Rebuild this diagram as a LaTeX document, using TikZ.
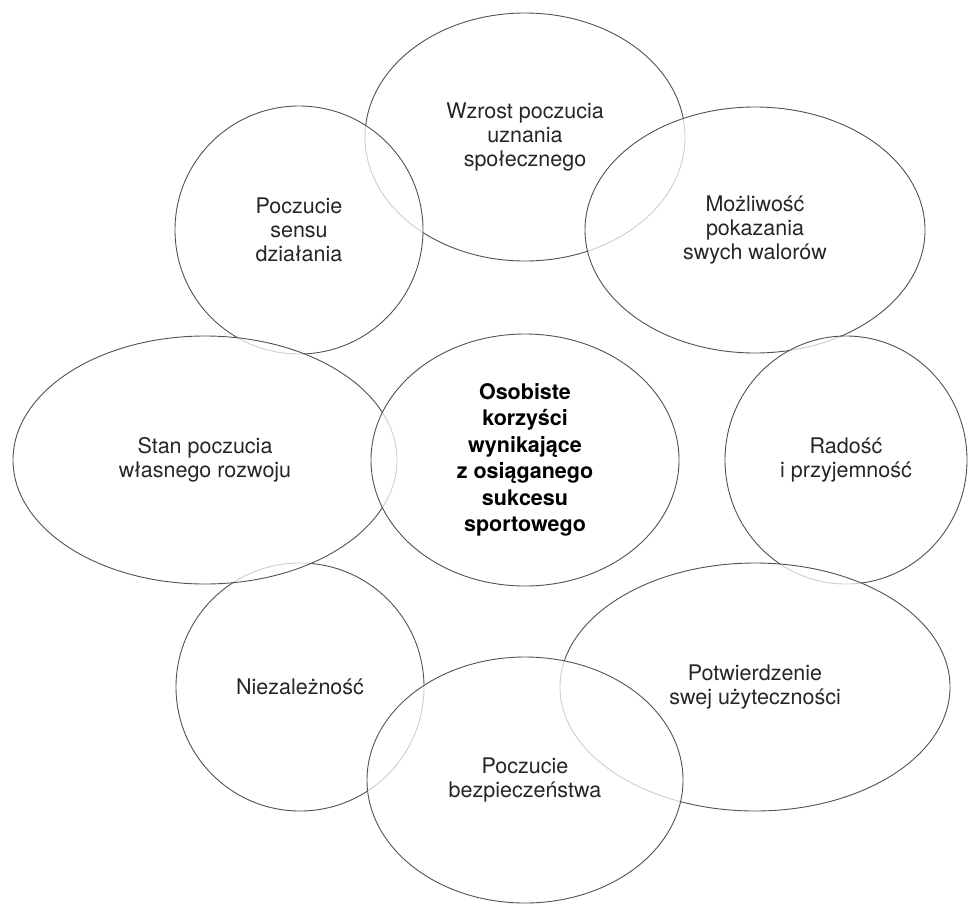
\documentclass[tikz,border=0pt]{standalone}
\usepackage{fontspec}
\setmainfont{TeX Gyre Heros}
\usetikzlibrary{shapes.geometric}
\begin{document}
\begin{tikzpicture}[x=1pt,y=-1pt,line join=round,
	pole/.style={ellipse,draw=black!68,line width=0.9pt,fill=white,fill opacity=0.72,text opacity=1,
		inner sep=0pt,align=center,text=black!85,font=\fontsize{21.5}{24}\selectfont},
	srodek/.style={pole,text=black,font=\fontsize{21.5}{26.5}\selectfont\bfseries}]
	\useasboundingbox (0,0) rectangle (968,903);
	% kolejnosc rysowania = kolejnosc nakladania elips
	\node[pole,minimum width=320pt,minimum height=248pt] (uznanie) at (525,137) {Wzrost poczucia\\uznania\\społecznego};
	\node[pole,minimum width=340pt,minimum height=246pt] (walory) at (755,230) {Możliwość\\pokazania\\swych walorów};
	\node[pole,minimum width=242pt,minimum height=248pt] (radosc) at (846,460) {Radość\\i przyjemność};
	\node[pole,minimum width=390pt,minimum height=248pt] (uzytecznosc) at (755,687) {Potwierdzenie\\swej użyteczności};
	\node[pole,minimum width=248pt,minimum height=248pt] (sens) at (299,230) {Poczucie\\sensu\\działania};
	\node[pole,minimum width=248pt,minimum height=248pt] (niezaleznosc) at (300,687) {Niezależność};
	\node[pole,minimum width=384pt,minimum height=248pt] (rozwoj) at (205,460) {Stan poczucia\\własnego rozwoju};
	\node[srodek,minimum width=308pt,minimum height=252pt] (korzysci) at (525,460) {Osobiste\\korzyści\\wynikające\\z osiąganego\\sukcesu\\sportowego};
	\node[pole,minimum width=316pt,minimum height=246pt] (bezpieczenstwo) at (525,780) {Poczucie\\bezpieczeństwa};
\end{tikzpicture}
\end{document}
